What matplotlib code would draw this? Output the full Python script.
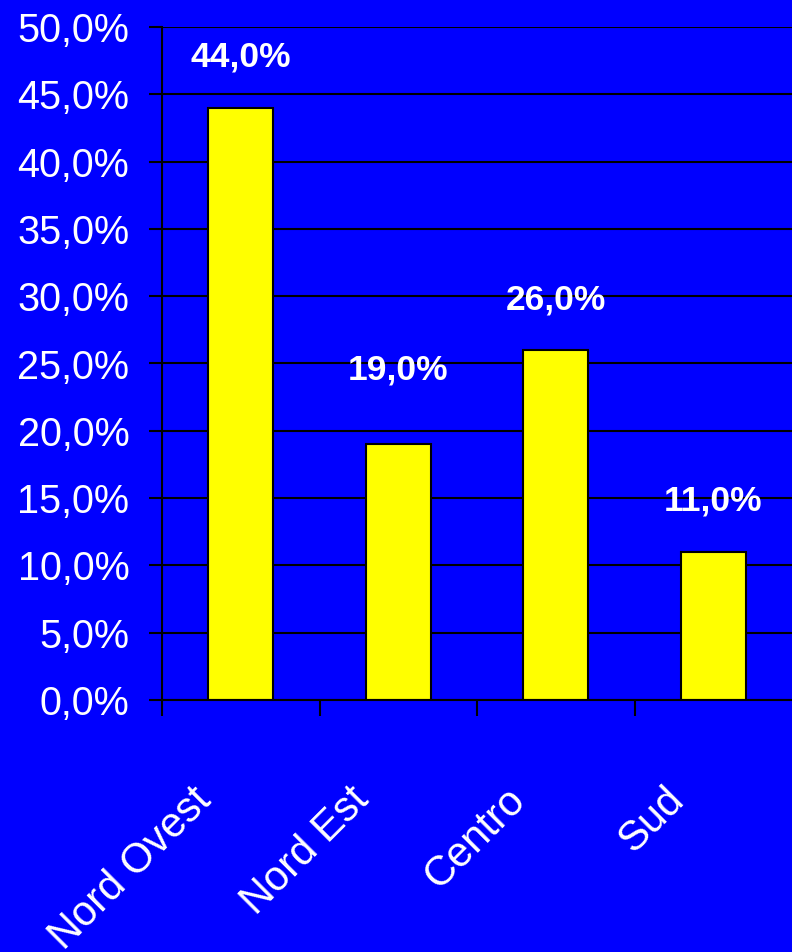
import matplotlib
matplotlib.use("Agg")
import matplotlib.pyplot as plt
import matplotlib.transforms as mtransforms
from matplotlib.ticker import FuncFormatter

# data
regions = ["Nord Ovest", "Nord Est", "Centro", "Sud"]
shares = [44.0, 19.0, 26.0, 11.0]
y_ticks = [0, 5, 10, 15, 20, 25, 30, 35, 40, 45, 50]

# label lift above each bar, in pixels (Excel put the 19% one higher)
label_lift = [41, 65, 41, 41]

blue = "#0000FF"
yellow = "#FFFF00"

plt.rcParams["font.family"] = ["Liberation Sans", "DejaVu Sans"]

fig = plt.figure(figsize=(7.92, 9.52), dpi=100, facecolor=blue)
ax = fig.add_axes([162 / 792, 252 / 952, 630 / 792, 673 / 952])
ax.set_facecolor(blue)

x = list(range(len(regions)))
ax.bar(x, shares, width=0.41, color=yellow, edgecolor="black", linewidth=1.5, zorder=3)

ax.set_xlim(-0.5, len(regions) - 0.5)
ax.set_ylim(0, 50)

# y axis
ax.set_yticks(y_ticks)
ax.yaxis.set_major_formatter(FuncFormatter(lambda v, p: f"{v:.1f}%".replace(".", ",")))
ax.tick_params(axis="y", length=9.5, width=1.5, color="black", labelsize=28.5,
               labelcolor="white", pad=14)
ax.yaxis.grid(True, color="black", linewidth=1.5, zorder=1)

# x axis: tick marks at category boundaries, labels at centres
ax.set_xticks([i - 0.5 for i in x])
ax.set_xticklabels([])
ax.tick_params(axis="x", which="major", length=11.5, width=1.5, color="black")
ax.set_xticks(x, minor=True)
ax.set_xticklabels(regions, minor=True)
ax.tick_params(axis="x", which="minor", length=0, labelsize=30, labelcolor="white", pad=0)
shift = mtransforms.ScaledTranslation(-36 / 100, -94 / 100, fig.dpi_scale_trans)
for lab in ax.get_xticklabels(minor=True):
    lab.set_rotation(45)
    lab.set_rotation_mode("anchor")
    lab.set_ha("right")
    lab.set_va("center")
    lab.set_transform(lab.get_transform() + shift)

for side in ["top", "right"]:
    ax.spines[side].set_visible(False)
for side in ["left", "bottom"]:
    ax.spines[side].set_color("black")
    ax.spines[side].set_linewidth(1.5)
    ax.spines[side].set_zorder(4)

# value labels
for xi, v, lift in zip(x, shares, label_lift):
    ax.annotate(f"{v:.1f}%".replace(".", ","), (xi, v), xytext=(0, lift * 0.72),
                textcoords="offset points", ha="center", va="baseline",
                fontsize=25.5, fontweight="bold", color="white", zorder=5)

fig.savefig("out.png", dpi=100, facecolor=blue)
